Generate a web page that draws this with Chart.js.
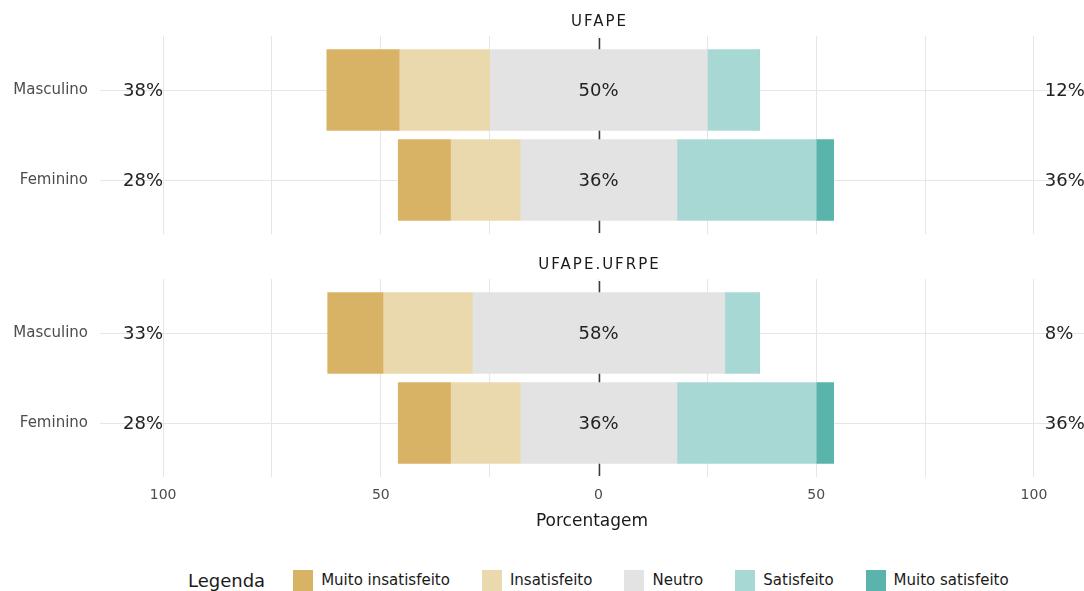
<!DOCTYPE html>
<html><head><meta charset="utf-8">
<script src="https://cdn.jsdelivr.net/npm/chart.js@4/dist/chart.umd.min.js"></script>
<style>
body{margin:0;background:#fff;width:1084px;height:591px;overflow:hidden;position:relative;font-family:"DejaVu Sans",sans-serif;}
.wrap{position:absolute;left:0;width:1084px;}
#legend{position:absolute;top:568px;left:188px;height:24px;display:flex;align-items:center;white-space:nowrap;color:#1a1a1a;}
#legend .title{font-size:18px;margin-right:28px;}
#legend .sw{width:20px;height:21px;margin-right:8px;}
#legend .lab{font-size:15px;margin-right:32px;}
</style></head>
<body>
<div class="wrap" style="top:0;height:256px"><canvas id="c1"></canvas></div>
<div class="wrap" style="top:245px;height:300px"><canvas id="c2"></canvas></div>
<div id="legend"></div>
<script>
// ---- data ----
const categories = ['Masculino', 'Feminino'];
const groupNames = ['UFAPE', 'UFAPE.UFRPE'];
const levels = ['Muito insatisfeito', 'Insatisfeito', 'Neutro', 'Satisfeito', 'Muito satisfeito'];
const levelColors = ['#D8B365', '#EBD9AE', '#E3E3E3', '#A8D8D4', '#5AB4AC'];

// UFAPE (Masculino, Feminino)
const ufapeMuitoInsatisfeito = [16.6, 12];
const ufapeInsatisfeito = [20.8, 16];
const ufapeNeutro = [50, 36];
const ufapeSatisfeito = [12, 32];
const ufapeMuitoSatisfeito = [0, 4];
const ufapeLowLabels = ['38%', '28%'];
const ufapeNeutralLabels = ['50%', '36%'];
const ufapeHighLabels = ['12%', '36%'];

// UFAPE.UFRPE (Masculino, Feminino)
const ufrpeMuitoInsatisfeito = [12.7, 12];
const ufrpeInsatisfeito = [20.5, 16];
const ufrpeNeutro = [58, 36];
const ufrpeSatisfeito = [8, 32];
const ufrpeMuitoSatisfeito = [0, 4];
const ufrpeLowLabels = ['33%', '28%'];
const ufrpeNeutralLabels = ['58%', '36%'];
const ufrpeHighLabels = ['8%', '36%'];

const xTickValues = [-100, -75, -50, -25, 0, 25, 50, 75, 100];

// ---- build datasets (floating, centred on neutral) ----
function buildDatasets(mi, ins, neu, sat, ms) {
  const segs = [[], [], [], [], []];
  categories.forEach((c, i) => {
    const h = neu[i] / 2;
    const pts = [-(mi[i] + ins[i] + h), -(ins[i] + h), -h, h, h + sat[i], h + sat[i] + ms[i]];
    for (let k = 0; k < 5; k++) segs[k].push({ y: i + 1, x: [pts[k], pts[k + 1]] });
  });
  return levels.map((l, k) => ({
    label: l, data: segs[k], backgroundColor: levelColors[k],
    grouped: false, barThickness: 81, borderWidth: 0
  }));
}

const FONT = '"DejaVu Sans", sans-serif';

function labelPlugin(title, low, mid, high) {
  return {
    id: 'lbl',
    beforeDatasetsDraw(chart) {
      const { ctx, chartArea, scales: { x } } = chart;
      const x0 = Math.round(x.getPixelForValue(0)) + 0.5;
      ctx.save();
      ctx.strokeStyle = '#3a3a3a';
      ctx.lineWidth = 1.5;
      ctx.beginPath();
      ctx.moveTo(x0, chartArea.top + 2);
      ctx.lineTo(x0, chartArea.bottom - 1);
      ctx.stroke();
      ctx.restore();
    },
    afterDatasetsDraw(chart) {
      const { ctx, chartArea, scales: { x, y } } = chart;
      ctx.save();
      ctx.fillStyle = '#1a1a1a';
      ctx.font = '15px ' + FONT;
      ctx.textAlign = 'center';
      ctx.textBaseline = 'middle';
      try { ctx.letterSpacing = '2px'; } catch (e) {}
      ctx.fillText(title, x.getPixelForValue(0) + 1, chartArea.top - 14);
      try { ctx.letterSpacing = '0px'; } catch (e) {}
      ctx.font = '18px ' + FONT;
      ctx.fillStyle = '#222';
      categories.forEach((c, i) => {
        const py = y.getPixelForValue(i + 1) + 1;
        ctx.textAlign = 'right';
        ctx.fillText(low[i], x.getPixelForValue(-100), py);
        ctx.textAlign = 'center';
        ctx.fillText(mid[i], x.getPixelForValue(0), py);
        ctx.textAlign = 'left';
        ctx.fillText(high[i], x.getPixelForValue(102.5), py);
      });
      ctx.restore();
    }
  };
}

function makeChart(id, datasets, plugin, showX, padTop, xHeight) {
  return new Chart(document.getElementById(id), {
    type: 'bar',
    data: { datasets },
    options: {
      indexAxis: 'y',
      responsive: true,
      maintainAspectRatio: false,
      animation: false,
      layout: { padding: { top: padTop, bottom: 0, left: 0, right: 0 } },
      plugins: { legend: { display: false }, tooltip: { enabled: false } },
      scales: {
        x: {
          type: 'linear', min: -114.5, max: 111.5, offset: false,
          afterBuildTicks: s => { s.ticks = xTickValues.map(v => ({ value: v })); },
          afterFit: s => { s.height = xHeight; },
          grid: { color: '#e6e6e6', lineWidth: 1, drawTicks: false, offset: false },
          border: { display: false },
          ticks: {
            display: showX, padding: 10, color: '#4d4d4d',
            font: { family: FONT, size: 14 },
            callback: v => (v % 50 === 0 ? String(Math.abs(v)) : '')
          },
          title: {
            display: showX, text: 'Porcentagem', color: '#1a1a1a',
            font: { family: FONT, size: 17 }, padding: { top: 0, bottom: 13 }
          }
        },
        y: {
          type: 'linear', min: 0.4, max: 2.6, reverse: true, offset: false,
          afterBuildTicks: s => { s.ticks = categories.map((c, i) => ({ value: i + 1 })); },
          afterFit: s => { s.width = 100; },
          grid: { color: '#e6e6e6', lineWidth: 1, drawTicks: false, offset: false },
          border: { display: false },
          ticks: {
            padding: 12, color: '#4d4d4d', font: { family: FONT, size: 15 },
            callback: v => categories[v - 1] || ''
          }
        }
      }
    },
    plugins: [plugin]
  });
}

makeChart('c1',
  buildDatasets(ufapeMuitoInsatisfeito, ufapeInsatisfeito, ufapeNeutro, ufapeSatisfeito, ufapeMuitoSatisfeito),
  labelPlugin(groupNames[0], ufapeLowLabels, ufapeNeutralLabels, ufapeHighLabels), false, 36, 22);
makeChart('c2',
  buildDatasets(ufrpeMuitoInsatisfeito, ufrpeInsatisfeito, ufrpeNeutro, ufrpeSatisfeito, ufrpeMuitoSatisfeito),
  labelPlugin(groupNames[1], ufrpeLowLabels, ufrpeNeutralLabels, ufrpeHighLabels), true, 34, 68);

// legend
const lg = document.getElementById('legend');
const t = document.createElement('span'); t.className = 'title'; t.textContent = 'Legenda'; lg.appendChild(t);
levels.forEach((l, k) => {
  const sw = document.createElement('span'); sw.className = 'sw'; sw.style.background = levelColors[k]; lg.appendChild(sw);
  const lb = document.createElement('span'); lb.className = 'lab'; lb.textContent = l; lg.appendChild(lb);
});
</script>
</body></html>
